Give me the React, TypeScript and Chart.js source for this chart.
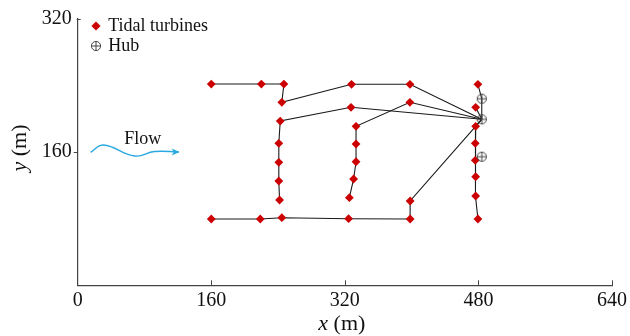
import React, { useEffect, useRef } from "react";
import { Chart, registerables } from "chart.js";

Chart.register(...registerables);

// ---- data ----
const xTickValues = [0, 160, 320, 480, 640];
const yTickValues = [160, 320];

const cableTopRow = [[160, 241.4], [220, 241.4], [247, 241.4], [244.5, 219.5], [328, 241.1], [398, 241.1], [484, 199.1]];
const cableLeftColumn = [[241.8, 102.3], [240.9, 125.1], [240.9, 147.5], [240.9, 170.3], [242.6, 197], [327.4, 213.5], [484, 199.1]];
const cableMiddleColumn = [[325.4, 105.1], [330.5, 127.5], [333.4, 148.2], [333.4, 169.5], [333.4, 190.7], [397.9, 219.5], [484, 199.1]];
const cableBottomRow = [[160, 79.5], [218.7, 79.5], [244.5, 81.1], [324.5, 79.9], [398.2, 79.5], [398.2, 101.1], [484, 199.1]];
const cableRightColumn = [[479.4, 241.1], [484, 223.8], [484, 199.1], [476.7, 190.7], [476.2, 170.3], [476.2, 149.9], [476.7, 130.2], [476.7, 107.1], [479.4, 79.5]];
const cableRightStub = [[476.7, 213.5], [484, 199.1]];

const turbines = [
  [160, 241.4], [220, 241.4], [247, 241.4], [244.5, 219.5], [328, 241.1], [398, 241.1], [479.4, 241.1],
  [242.6, 197], [240.9, 170.3], [240.9, 147.5], [240.9, 125.1], [241.8, 102.3], [327.4, 213.5],
  [333.4, 190.7], [333.4, 169.5], [333.4, 148.2], [330.5, 127.5], [325.4, 105.1], [397.9, 219.5],
  [160, 79.5], [218.7, 79.5], [244.5, 81.1], [324.5, 79.9], [398.2, 79.5], [398.2, 101.1],
  [476.7, 213.5], [476.7, 190.7], [476.2, 170.3], [476.2, 149.9], [476.7, 130.2], [476.7, 107.1], [479.4, 79.5],
];
const hubs = [[484, 223.8], [484, 199.1], [484, 154.2]];

const flowWave = [[15.5, 159.5], [30.6, 168.3], [68.4, 155.1], [92, 160.5], [121, 159.8]];
const flowLabel = "Flow";
const flowLabelAt = [78, 175];

const legendLabels = ["Tidal turbines", "Hub"];

const SERIF = "'Liberation Serif', 'DejaVu Serif', serif";
const RED = "#cc0000";
const AXIS = "#444444";

function toPts(a: number[][]) {
  return a.map(([x, y]) => ({ x, y }));
}

function makeHubImage() {
  const c = document.createElement("canvas");
  c.width = 12;
  c.height = 12;
  const g = c.getContext("2d")!;
  g.strokeStyle = "#444";
  g.lineWidth = 1;
  g.beginPath();
  g.arc(6, 6, 4.6, 0, Math.PI * 2);
  g.stroke();
  g.beginPath();
  g.moveTo(1.4, 6);
  g.lineTo(10.6, 6);
  g.moveTo(6, 1.4);
  g.lineTo(6, 10.6);
  g.stroke();
  return c;
}

export default function App() {
  const ref = useRef<HTMLCanvasElement | null>(null);

  useEffect(() => {
    document.body.style.margin = "0";
    const canvas = ref.current!;
    const hubImg = makeHubImage();

    const cableStyle = {
      type: "line" as const,
      showLine: true,
      borderColor: "#1a1a1a",
      borderWidth: 1.1,
      pointRadius: 0,
      fill: false,
      tension: 0,
    };

    const decorPlugin = {
      id: "decor",
      afterDraw(chart: any) {
        const { ctx, chartArea, scales } = chart;
        const xs = scales.x;
        const ys = scales.y;
        ctx.save();
        // ticks
        ctx.strokeStyle = AXIS;
        ctx.lineWidth = 1;
        ctx.beginPath();
        for (const v of xTickValues) {
          if (v === 0) continue;
          const px = Math.round(xs.getPixelForValue(v)) + 0.5;
          ctx.moveTo(px, chartArea.bottom);
          ctx.lineTo(px, chartArea.bottom - 5);
        }
        const y320 = Math.round(ys.getPixelForValue(320)) + 0.5;
        ctx.moveTo(chartArea.left - 1, y320);
        ctx.lineTo(chartArea.left + 3, y320);
        const y160 = Math.round(ys.getPixelForValue(160)) + 0.5;
        ctx.moveTo(chartArea.left - 4, y160);
        ctx.lineTo(chartArea.left, y160);
        ctx.stroke();

        // flow arrowhead + label
        const last = flowWave[flowWave.length - 1];
        const tx = xs.getPixelForValue(last[0]);
        const ty = ys.getPixelForValue(last[1]);
        ctx.fillStyle = "#29a9e0";
        ctx.beginPath();
        ctx.moveTo(tx + 1, ty);
        ctx.lineTo(tx - 7, ty - 3.5);
        ctx.lineTo(tx - 5, ty);
        ctx.lineTo(tx - 7, ty + 3.5);
        ctx.closePath();
        ctx.fill();

        ctx.fillStyle = "#111";
        ctx.font = `18px ${SERIF}`;
        ctx.textAlign = "center";
        ctx.textBaseline = "middle";
        ctx.fillText(flowLabel, xs.getPixelForValue(flowLabelAt[0]), ys.getPixelForValue(flowLabelAt[1]));

        // legend
        const lx = chartArea.left + 18.3;
        const ly1 = chartArea.top + 7.5;
        const ly2 = chartArea.top + 27.5;
        ctx.fillStyle = RED;
        ctx.beginPath();
        ctx.moveTo(lx, ly1 - 4.6);
        ctx.lineTo(lx + 4.6, ly1);
        ctx.lineTo(lx, ly1 + 4.6);
        ctx.lineTo(lx - 4.6, ly1);
        ctx.closePath();
        ctx.fill();
        ctx.drawImage(hubImg, lx - 6, ly2 - 6);
        ctx.fillStyle = "#111";
        ctx.textAlign = "left";
        ctx.fillText(legendLabels[0], chartArea.left + 30.5, ly1);
        ctx.fillText(legendLabels[1], chartArea.left + 30.5, ly2);

        // axis titles
        ctx.font = `italic 22px ${SERIF}`;
        const wx = ctx.measureText("x").width;
        ctx.font = `22px ${SERIF}`;
        const wm = ctx.measureText(" (m)").width;
        const cx = (chartArea.left + chartArea.right) / 2 - 3;
        const sx = cx - (wx + wm) / 2;
        const tyTitle = 324;
        ctx.textAlign = "left";
        ctx.font = `italic 22px ${SERIF}`;
        ctx.fillText("x", sx, tyTitle);
        ctx.font = `22px ${SERIF}`;
        ctx.fillText(" (m)", sx + wx, tyTitle);

        ctx.save();
        ctx.translate(20.5, 148);
        ctx.rotate(-Math.PI / 2);
        ctx.font = `italic 22px ${SERIF}`;
        const wy = ctx.measureText("y").width;
        ctx.font = `22px ${SERIF}`;
        const sy = -(wy + wm) / 2;
        ctx.font = `italic 22px ${SERIF}`;
        ctx.fillText("y", sy, 0);
        ctx.font = `22px ${SERIF}`;
        ctx.fillText(" (m)", sy + wy, 0);
        ctx.restore();

        ctx.restore();
      },
    };

    const chart = new Chart(canvas, {
      type: "scatter",
      data: {
        datasets: [
          {
            label: "Hub",
            data: toPts(hubs),
            pointStyle: hubImg as any,
            pointRadius: 6,
            showLine: false,
          },
          {
            label: "Tidal turbines",
            data: toPts(turbines),
            pointStyle: "rectRot",
            pointRadius: 4.4,
            backgroundColor: RED,
            borderColor: RED,
            borderWidth: 0,
            showLine: false,
          },
          { ...cableStyle, label: "c1", data: toPts(cableTopRow) },
          { ...cableStyle, label: "c2", data: toPts(cableLeftColumn) },
          { ...cableStyle, label: "c3", data: toPts(cableMiddleColumn) },
          { ...cableStyle, label: "c4", data: toPts(cableBottomRow) },
          { ...cableStyle, label: "c5", data: toPts(cableRightColumn) },
          { ...cableStyle, label: "c6", data: toPts(cableRightStub) },
          {
            type: "line" as const,
            label: "flow",
            data: toPts(flowWave),
            showLine: true,
            borderColor: "#29a9e0",
            borderWidth: 1.4,
            pointRadius: 0,
            tension: 0.45,
            fill: false,
          },
        ] as any,
      },
      options: {
        animation: false,
        responsive: false,
        devicePixelRatio: 1,
        layout: { padding: { top: 18.5, right: 16.6, left: 0, bottom: 0 } },
        plugins: {
          legend: { display: false },
          tooltip: { enabled: false },
        },
        scales: {
          x: {
            type: "linear",
            min: 0,
            max: 640,
            afterBuildTicks: (s: any) => {
              s.ticks = xTickValues.map((v) => ({ value: v }));
            },
            afterFit: (s: any) => {
              s.height = 50.7;
            },
            grid: { display: false, drawTicks: false },
            border: { display: true, color: AXIS, width: 1.2 },
            ticks: {
              color: "#111",
              padding: 3,
              maxRotation: 0,
              autoSkip: false,
              font: { family: SERIF, size: 20 },
            },
          },
          y: {
            type: "linear",
            min: 0,
            max: 320,
            afterBuildTicks: (s: any) => {
              s.ticks = yTickValues.map((v) => ({ value: v }));
            },
            afterFit: (s: any) => {
              s.width = 77.7;
            },
            grid: { display: false, drawTicks: false },
            border: { display: true, color: AXIS, width: 1.2 },
            ticks: {
              color: "#111",
              padding: 6,
              autoSkip: false,
              font: { family: SERIF, size: 20 },
            },
          },
        },
      } as any,
      plugins: [decorPlugin],
    });

    return () => chart.destroy();
  }, []);

  return (
    <div style={{ width: 630, height: 336 }}>
      <canvas ref={ref} width={630} height={336} style={{ width: 630, height: 336, display: "block" }} />
    </div>
  );
}
